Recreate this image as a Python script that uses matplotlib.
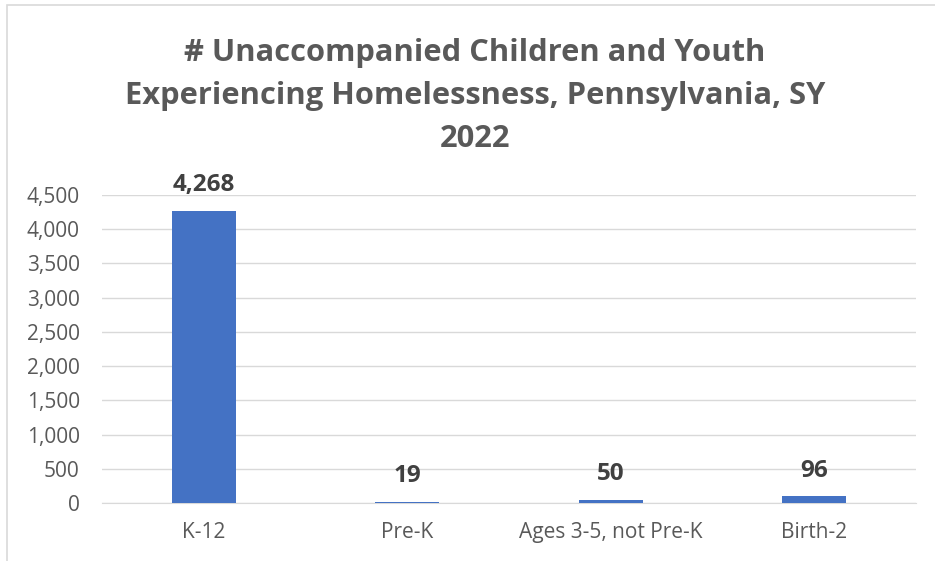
import matplotlib.pyplot as plt
from matplotlib.patches import Rectangle
from matplotlib.ticker import FuncFormatter

categories = ["K-12", "Pre-K", "Ages 3-5, not Pre-K", "Birth-2"]
counts = [4268, 19, 50, 96]
yticks = [0, 500, 1000, 1500, 2000, 2500, 3000, 3500, 4000, 4500]

plt.rcParams['font.family'] = ['Open Sans', 'DejaVu Sans']

fig = plt.figure(figsize=(9.35, 5.61), dpi=100)
# light frame around the chart
fig.patches.append(Rectangle((7 / 935, -0.1), 1.1, 1 - 5 / 561 + 0.1, transform=fig.transFigure,
                             fill=False, edgecolor='#d9d9d9', linewidth=1.2))

ax = fig.add_axes([102 / 935, 1 - 503 / 561, 814 / 935, (503 - 195) / 561])
x = range(len(categories))
bars = ax.bar(x, counts, width=0.315, color='#4472c4', zorder=3)

ax.set_xlim(-0.5, len(categories) - 0.5)
ax.set_ylim(0, 4500)
ax.set_yticks(yticks)
ax.yaxis.set_major_formatter(FuncFormatter(lambda v, p: f"{int(v):,}"))
ax.set_xticks(list(x))
ax.set_xticklabels(categories)
ax.tick_params(axis='both', length=0, labelsize=15, colors='#595959')
ax.tick_params(axis='x', pad=14)
ax.tick_params(axis='y', pad=16)
ax.grid(axis='y', color='#d9d9d9', linewidth=1, zorder=0)
for s in ['top', 'right', 'left']:
    ax.spines[s].set_visible(False)
ax.spines['bottom'].set_color('#d9d9d9')

for b, v in zip(bars, counts):
    ax.annotate(f"{v:,}", (b.get_x() + b.get_width() / 2, v), xytext=(0, 10),
                textcoords='offset points', ha='center', va='bottom',
                fontsize=17.5, fontweight='bold', color='#404040')

fig.text(0.508, 1 - 96 / 561,
         "# Unaccompanied Children and Youth\nExperiencing Homelessness, Pennsylvania, SY\n2022",
         ha='center', va='center', fontsize=22.2, fontweight='bold', color='#595959',
         linespacing=1.55)

fig.savefig("out.png", dpi=100)
